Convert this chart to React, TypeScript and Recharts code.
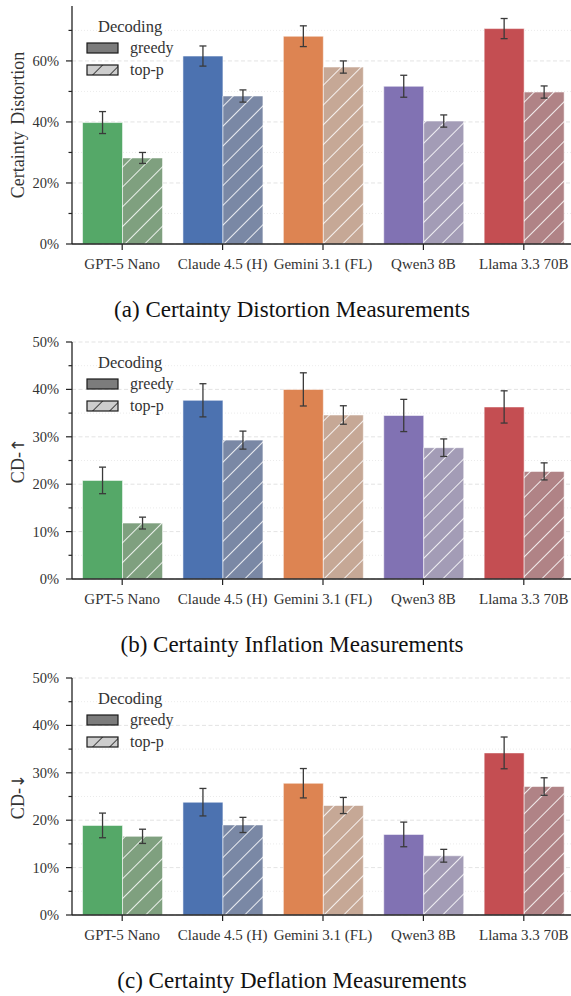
/**
 * Certainty Distortion Panels
 *
 * Three grouped bar charts (greedy vs top-p decoding) with error bars.
 */

import { Bar, BarChart, CartesianGrid, Cell, ErrorBar, Label, XAxis, YAxis } from "recharts";

// ============================================
// Data
// ============================================

const MODELS = ["GPT-5 Nano", "Claude 4.5 (H)", "Gemini 3.1 (FL)", "Qwen3 8B", "Llama 3.3 70B"];

// (a) Certainty Distortion
const CD_GREEDY = [39.8, 61.6, 68.1, 51.7, 70.6];
const CD_GREEDY_ERR = [3.6, 3.3, 3.4, 3.6, 3.3];
const CD_TOPP = [28.2, 48.5, 58.0, 40.3, 49.8];
const CD_TOPP_ERR = [1.8, 2.0, 2.0, 2.0, 2.0];

// (b) Certainty Inflation (CD-up)
const UP_GREEDY = [20.8, 37.7, 40.0, 34.5, 36.3];
const UP_GREEDY_ERR = [2.8, 3.5, 3.5, 3.4, 3.4];
const UP_TOPP = [11.8, 29.3, 34.6, 27.7, 22.7];
const UP_TOPP_ERR = [1.25, 1.9, 1.95, 1.85, 1.8];

// (c) Certainty Deflation (CD-down)
const DOWN_GREEDY = [18.9, 23.8, 27.8, 17.0, 34.2];
const DOWN_GREEDY_ERR = [2.6, 2.9, 3.1, 2.6, 3.35];
const DOWN_TOPP = [16.6, 19.0, 23.1, 12.5, 27.1];
const DOWN_TOPP_ERR = [1.5, 1.6, 1.7, 1.35, 1.85];

// Axis ticks
const TICKS_A_MAJOR = [0, 20, 40, 60];
const TICKS_A_MINOR = [10, 30, 50, 70];
const TICKS_BC_MAJOR = [0, 10, 20, 30, 40, 50];
const TICKS_BC_MINOR = [5, 15, 25, 35, 45];

// ============================================
// Styles
// ============================================

const GREEDY_COLORS = ["#55a868", "#4c72b0", "#dd8452", "#8172b3", "#c44e52"];
const TOPP_COLORS = ["#7fa07f", "#7a88a5", "#c6a896", "#a39cb6", "#b08386"];

const SERIF = "'Liberation Serif', 'Times New Roman', serif";
const AXIS = "#222222";
const TEXT = "#333333";

// ============================================
// Helpers
// ============================================

interface Row {
  model: string;
  greedy: number;
  greedyErr: number;
  topp: number;
  toppErr: number;
}

function buildRows(g: number[], ge: number[], p: number[], pe: number[]): Row[] {
  return MODELS.map((model, i) => ({
    model,
    greedy: g[i],
    greedyErr: ge[i],
    topp: p[i],
    toppErr: pe[i],
  }));
}

function YTick(props: any) {
  const { x, y, payload, majors } = props;
  const major = majors.includes(payload.value);
  return (
    <g>
      <line x1={x - (major ? 6 : 3.5)} x2={x} y1={y} y2={y} stroke={AXIS} strokeWidth={1.2} />
      {major && (
        <text
          x={x - 13}
          y={y}
          dy="0.35em"
          textAnchor="end"
          fill={TEXT}
          fontFamily={SERIF}
          fontSize={14.5}
        >
          {`${payload.value}%`}
        </text>
      )}
    </g>
  );
}

/**
 * Legend overlay (no frame), placed inside the plot's top-left corner.
 */
function DecodingLegend({ id, left, top }: { id: string; left: number; top: number }) {
  const row = { display: "flex", alignItems: "center", height: 22 };
  return (
    <div
      style={{ position: "absolute", left, top, fontFamily: SERIF, color: TEXT, width: 110 }}
    >
      <div style={{ height: 20, lineHeight: "20px", fontSize: 16.5, paddingLeft: 14 }}>Decoding</div>
      <div style={row}>
        <svg width={34} height={12} style={{ marginLeft: 2 }}>
          <rect x={1} y={1} width={31} height={10} fill="#7c7c7c" stroke="#1a1a1a" strokeWidth={1.2} />
        </svg>
        <span style={{ fontSize: 16, marginLeft: 10 }}>greedy</span>
      </div>
      <div style={row}>
        <svg width={34} height={12} style={{ marginLeft: 2 }}>
          <defs>
            <pattern
              id={`lg-${id}`}
              patternUnits="userSpaceOnUse"
              width={12}
              height={12}
              patternTransform="rotate(45)"
            >
              <rect width={12} height={12} fill="#cdcdcd" />
              <line x1={0} y1={0} x2={0} y2={12} stroke="#1a1a1a" strokeWidth={1.6} />
            </pattern>
          </defs>
          <rect x={1} y={1} width={31} height={10} fill={`url(#lg-${id})`} stroke="#1a1a1a" strokeWidth={1.2} />
        </svg>
        <span style={{ fontSize: 16, marginLeft: 10 }}>top-p</span>
      </div>
    </div>
  );
}

// ============================================
// Panel
// ============================================

interface PanelProps {
  id: string;
  plotTop: number;
  plotHeight: number;
  data: Row[];
  yMax: number;
  majors: number[];
  minors: number[];
  yLabel: string;
  yArrow?: string;
  title: string;
}

function Panel({ id, plotTop, plotHeight, data, yMax, majors, minors, yLabel, yArrow, title }: PanelProps) {
  const marginTop = 14;
  const xAxisHeight = 30;
  const height = marginTop + plotHeight + xAxisHeight;
  const top = plotTop - marginTop;
  const allTicks = [...majors, ...minors].sort((a, b) => a - b);

  return (
    <>
      <div style={{ position: "absolute", left: 0, top, width: 574, height }}>
        <BarChart
          width={574}
          height={height}
          data={data}
          margin={{ top: marginTop, right: 0, bottom: 0, left: 0 }}
          barCategoryGap="10.5%"
          barGap={0}
        >
          <defs>
            {TOPP_COLORS.map((c, i) => (
              <pattern
                key={c}
                id={`hatch-${id}-${i}`}
                patternUnits="userSpaceOnUse"
                width={14}
                height={14}
                patternTransform="rotate(45)"
              >
                <rect width={14} height={14} fill={c} />
                <line x1={0} y1={0} x2={0} y2={14} stroke="#ffffff" strokeWidth={1.7} />
              </pattern>
            ))}
          </defs>

          <CartesianGrid
            vertical={false}
            horizontalValues={majors}
            stroke="#dcdcdc"
            strokeDasharray="4 2.5"
            strokeWidth={0.8}
          />
          <CartesianGrid
            vertical={false}
            horizontalValues={minors}
            stroke="#e6e6e6"
            strokeDasharray="1 2"
            strokeWidth={0.8}
          />

          <XAxis
            dataKey="model"
            interval={0}
            height={xAxisHeight}
            axisLine={{ stroke: AXIS, strokeWidth: 1.3 }}
            tickLine={{ stroke: AXIS, strokeWidth: 1.2 }}
            tickSize={6}
            tickMargin={8}
            tick={{ fill: TEXT, fontFamily: SERIF, fontSize: 15 }}
          />
          <YAxis
            type="number"
            width={72}
            domain={[0, yMax]}
            ticks={allTicks}
            interval={0}
            allowDataOverflow
            axisLine={{ stroke: AXIS, strokeWidth: 1.3 }}
            tickLine={false}
            tickSize={0}
            tickMargin={0}
            tick={<YTick majors={majors} />}
            label={
              <Label
                content={(p: any) => {
                  const vb = p.viewBox || { y: marginTop, height: plotHeight };
                  const cy = vb.y + vb.height / 2;
                  return (
                    <text
                      transform={`translate(18, ${cy}) rotate(-90)`}
                      textAnchor="middle"
                      dominantBaseline="central"
                      fill={TEXT}
                      fontFamily={SERIF}
                      fontSize={18}
                      wordSpacing={2}
                    >
                      {yLabel}
                      {yArrow && <tspan fontFamily="'DejaVu Sans', sans-serif" fontSize={17}>{yArrow}</tspan>}
                    </text>
                  );
                }}
              />
            }
          />

          <Bar
            dataKey="greedy"
            name="greedy"
            isAnimationActive={false}
            stroke="rgba(255,255,255,0.55)"
            strokeWidth={1}
          >
            {data.map((d, i) => (
              <Cell key={d.model} fill={GREEDY_COLORS[i]} />
            ))}
            <ErrorBar dataKey="greedyErr" width={3.5} stroke="#3a3a3a" strokeWidth={1.3} />
          </Bar>
          <Bar
            dataKey="topp"
            name="top-p"
            isAnimationActive={false}
            stroke="rgba(255,255,255,0.55)"
            strokeWidth={1}
          >
            {data.map((d, i) => (
              <Cell key={d.model} fill={`url(#hatch-${id}-${i})`} />
            ))}
            <ErrorBar dataKey="toppErr" width={3.5} stroke="#3a3a3a" strokeWidth={1.3} />
          </Bar>
        </BarChart>
        <DecodingLegend id={id} left={84} top={marginTop + 11} />
      </div>
      <div
        style={{
          position: "absolute",
          left: 0,
          width: 584,
          top: plotTop + plotHeight + 52,
          textAlign: "center",
          fontFamily: SERIF,
          fontSize: 23,
          lineHeight: "28px",
          color: "#111",
        }}
      >
        {title}
      </div>
    </>
  );
}

// ============================================
// App
// ============================================

export default function App() {
  return (
    <div
      style={{
        position: "absolute",
        left: 0,
        top: 0,
        width: 571,
        height: 996,
        overflow: "hidden",
        background: "#ffffff",
      }}
    >
      <Panel
        id="a"
        plotTop={6}
        plotHeight={238}
        data={buildRows(CD_GREEDY, CD_GREEDY_ERR, CD_TOPP, CD_TOPP_ERR)}
        yMax={78}
        majors={TICKS_A_MAJOR}
        minors={TICKS_A_MINOR}
        yLabel="Certainty Distortion"
        title="(a) Certainty Distortion Measurements"
      />
      <Panel
        id="b"
        plotTop={342.3}
        plotHeight={237}
        data={buildRows(UP_GREEDY, UP_GREEDY_ERR, UP_TOPP, UP_TOPP_ERR)}
        yMax={50}
        majors={TICKS_BC_MAJOR}
        minors={TICKS_BC_MINOR}
        yLabel="CD-"
        yArrow="↑"
        title="(b) Certainty Inflation Measurements"
      />
      <Panel
        id="c"
        plotTop={678.3}
        plotHeight={237}
        data={buildRows(DOWN_GREEDY, DOWN_GREEDY_ERR, DOWN_TOPP, DOWN_TOPP_ERR)}
        yMax={50}
        majors={TICKS_BC_MAJOR}
        minors={TICKS_BC_MINOR}
        yLabel="CD-"
        yArrow="↓"
        title="(c) Certainty Deflation Measurements"
      />
    </div>
  );
}
